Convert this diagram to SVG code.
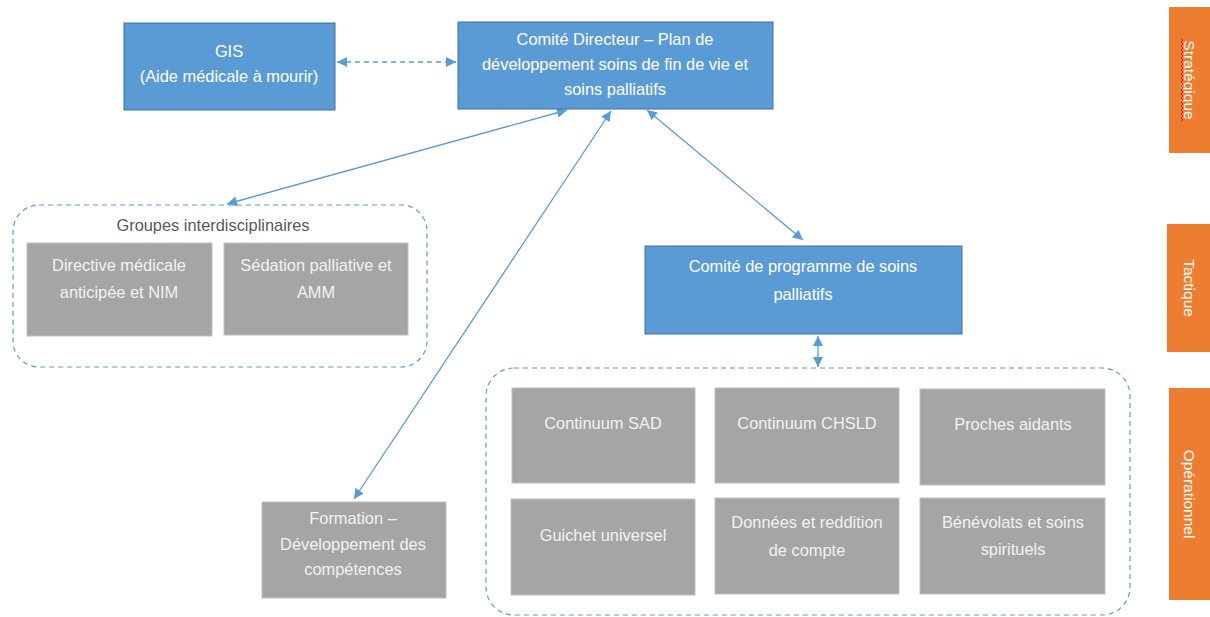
<svg xmlns="http://www.w3.org/2000/svg" width="1210" height="617" viewBox="0 0 1210 617">
<defs>
<marker id="ah" viewBox="0 0 10 10" refX="10" refY="5" markerWidth="11" markerHeight="10" markerUnits="userSpaceOnUse" orient="auto-start-reverse">
<path d="M0,0 L10,5 L0,10 z" fill="#5B9BD5"/>
</marker>
</defs>
<style>
text{font-family:"Liberation Sans",Arial,sans-serif;font-size:16.4px;text-anchor:middle}
.blue{fill:#5B9BD5;stroke:#41719C;stroke-width:1}
.gray{fill:#A5A5A5;stroke:#BFBFBF;stroke-width:1}
.orange{fill:#ED7D31}
.wt{fill:#FFFFFF}
.gt{fill:#F2F2F2}
.side{fill:#FFFFFF;font-size:15.5px}
.cont{fill:none;stroke:#5B9BD5;stroke-width:1.2;stroke-dasharray:5 4}
.conn{fill:none;stroke:#5B9BD5;stroke-width:1.3;marker-start:url(#ah);marker-end:url(#ah)}
</style>
<rect width="1210" height="617" fill="#FFFFFF"/>

<g id="side-strategique">
<rect class="orange" x="1169" y="7" width="41" height="146"/>
<text class="side" transform="translate(1184,80) rotate(90)">Stratégique</text>
<path d="M1181,38 l2,2 l-2,2 l2,2 l-2,2 l2,2 l-2,2 l2,2 l-2,2 l2,2 l-2,2 l2,2 l-2,2 l2,2 l-2,2 l2,2 l-2,2 l2,2 l-2,2 l2,2 l-2,2 l2,2 l-2,2 l2,2 l-2,2 l2,2 l-2,2 l2,2 l-2,2 l2,2 l-2,2 l2,2 l-2,2 l2,2 l-2,2 l2,2 l-2,2 l2,2 l-2,2 l2,2 l-2,2 l2,2 l-2,2" fill="none" stroke="#E00000" stroke-width="0.8"/>
</g>
<g id="side-tactique">
<rect class="orange" x="1167" y="224" width="43" height="128"/>
<text class="side" transform="translate(1184,288) rotate(90)">Tactique</text>
</g>
<g id="side-operationnel">
<rect class="orange" x="1169" y="388" width="41" height="212"/>
<text class="side" transform="translate(1184,494) rotate(90)">Opérationnel</text>
</g>

<g id="connectors">
<line class="conn" x1="337" y1="62" x2="456" y2="62" stroke-dasharray="5 4"/>
<line class="conn" x1="567" y1="110" x2="227" y2="204"/>
<line class="conn" x1="611" y1="111" x2="354" y2="499"/>
<line class="conn" x1="647" y1="110" x2="803" y2="240"/>
<line class="conn" x1="818" y1="336" x2="818" y2="367"/>
</g>

<g id="gis">
<rect class="blue" x="124" y="23" width="211" height="87"/>
<text class="wt" x="229" y="57">GIS</text>
<text class="wt" x="229" y="82">(Aide médicale à mourir)</text>
</g>

<g id="comite-directeur">
<rect class="blue" x="458" y="22" width="315" height="87"/>
<text class="wt" x="615" y="45">Comité Directeur – Plan de</text>
<text class="wt" x="615" y="70">développement soins de fin de vie et</text>
<text class="wt" x="615" y="95">soins palliatifs</text>
</g>

<g id="groupes-interdisciplinaires">
<rect class="cont" x="13" y="205" width="414" height="162" rx="26" ry="26"/>
<text x="213" y="231" fill="#595959">Groupes interdisciplinaires</text>
</g>

<g id="directive">
<rect class="gray" x="27" y="243" width="185" height="93"/>
<text class="gt" x="119" y="271">Directive médicale</text>
<text class="gt" x="119" y="298">anticipée et NIM</text>
</g>

<g id="sedation">
<rect class="gray" x="224" y="243" width="184" height="92"/>
<text class="gt" x="316" y="271">Sédation palliative et</text>
<text class="gt" x="316" y="298">AMM</text>
</g>

<g id="comite-programme">
<rect class="blue" x="645" y="246" width="317" height="88"/>
<text class="wt" x="803" y="272">Comité de programme de soins</text>
<text class="wt" x="803" y="300">palliatifs</text>
</g>

<g id="formation">
<rect class="gray" x="262" y="502" width="184" height="96"/>
<text class="gt" x="353" y="524">Formation –</text>
<text class="gt" x="353" y="550">Développement des</text>
<text class="gt" x="353" y="575">compétences</text>
</g>

<g id="operationnel-groupe">
<rect class="cont" x="486" y="368" width="644" height="247" rx="28" ry="28"/>
</g>

<g id="continuum-sad">
<rect class="gray" x="512" y="388" width="183" height="95"/>
<text class="gt" x="603" y="429">Continuum SAD</text>
</g>
<g id="continuum-chsld">
<rect class="gray" x="715" y="388" width="184" height="95"/>
<text class="gt" x="807" y="429">Continuum CHSLD</text>
</g>
<g id="proches-aidants">
<rect class="gray" x="920" y="389" width="185" height="96"/>
<text class="gt" x="1013" y="430">Proches aidants</text>
</g>
<g id="guichet-universel">
<rect class="gray" x="511" y="499" width="184" height="96"/>
<text class="gt" x="603" y="541">Guichet universel</text>
</g>
<g id="donnees">
<rect class="gray" x="715" y="498" width="184" height="96"/>
<text class="gt" x="807" y="528">Données et reddition</text>
<text class="gt" x="807" y="556">de compte</text>
</g>
<g id="benevolats">
<rect class="gray" x="920" y="498" width="185" height="96"/>
<text class="gt" x="1013" y="528">Bénévolats et soins</text>
<text class="gt" x="1013" y="555">spirituels</text>
</g>
</svg>
